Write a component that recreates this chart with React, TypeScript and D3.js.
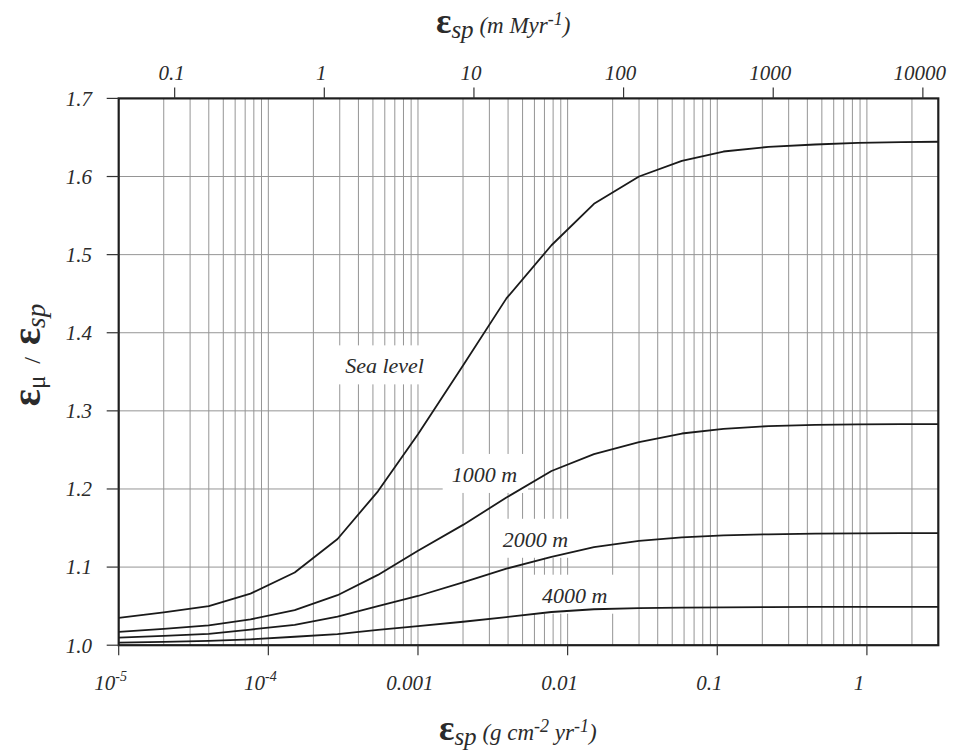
import React from 'react';
import * as d3 from 'd3';

// Erosion rate (g cm-2 yr-1) at which the curves were sampled
const erosionRate = [1e-5, 2e-5, 4e-5, 7.6e-5, 1.5e-4, 2.9e-4, 5.4e-4, 1.0e-3, 2.0e-3, 3.9e-3, 7.8e-3, 1.5e-2, 3.0e-2, 5.8e-2, 0.11, 0.22, 0.45, 0.87, 1.7, 3.0];
// epsilon_mu / epsilon_sp
const seaLevel = [1.035, 1.042, 1.050, 1.066, 1.093, 1.136, 1.197, 1.270, 1.358, 1.444, 1.512, 1.565, 1.600, 1.620, 1.632, 1.638, 1.641, 1.643, 1.644, 1.6445];
const alt1000 = [1.017, 1.021, 1.0255, 1.033, 1.045, 1.064, 1.090, 1.121, 1.154, 1.189, 1.223, 1.2445, 1.260, 1.271, 1.277, 1.2805, 1.282, 1.2828, 1.283, 1.283];
const alt2000 = [1.0096, 1.012, 1.0145, 1.020, 1.026, 1.0365, 1.050, 1.063, 1.0805, 1.098, 1.113, 1.1255, 1.1335, 1.138, 1.1405, 1.142, 1.1428, 1.1432, 1.1434, 1.1435];
const alt4000 = [1.0032, 1.0043, 1.0055, 1.0075, 1.0108, 1.0143, 1.0195, 1.0245, 1.030, 1.036, 1.0425, 1.046, 1.0475, 1.048, 1.0485, 1.0488, 1.049, 1.049, 1.049, 1.049];

const curveNames = ['Sea level', '1000 m', '2000 m', '4000 m'];
// label anchor (rate, ratio) in data coordinates
const labelRate = [3.26e-4, 1.68e-3, 3.68e-3, 6.73e-3];
const labelRatio = [1.348, 1.209, 1.126, 1.0544];

const yTicks = [1.0, 1.1, 1.2, 1.3, 1.4, 1.5, 1.6, 1.7];
const bottomTicks = [1e-5, 1e-4, 1e-3, 1e-2, 0.1, 1];
const bottomTickBase = ['10', '10', '0.001', '0.01', '0.1', '1'];
const bottomTickExp = ['-5', '-4', '', '', '', ''];
const topTicks = [0.1, 1, 10, 100, 1000, 10000];
const topTickLabels = ['0.1', '1', '10', '100', '1000', '10000'];
const xDomain = [1e-5, 3.0];
const yDomain = [1.0, 1.7];
const K = 4227; // m Myr-1 per g cm-2 yr-1 (top axis conversion)

export default function App() {
  const ref = React.useRef<SVGSVGElement>(null);

  React.useEffect(() => {
    const svg = d3.select(ref.current);
    svg.selectAll('*').remove();
    const left = 118.7, right = 938.3, top = 98.4, bottom = 645.2;
    const x = d3.scaleLog().domain(xDomain).range([left, right]);
    const xTop = d3.scaleLog().domain([xDomain[0] * K, xDomain[1] * K]).range([left, right]);
    const y = d3.scaleLinear().domain(yDomain).range([bottom, top]);
    const font = '"Liberation Serif", "Times New Roman", serif';
    const txt = '#2b2b2b';

    svg.append('rect').attr('width', 953).attr('height', 755).attr('fill', '#fff');

    // vertical grid
    const minor: number[] = [];
    for (let e = -5; e <= 0; e++) {
      for (let m = 1; m <= 9; m++) {
        const v = m * Math.pow(10, e);
        if (v > xDomain[0] * 1.001 && v < xDomain[1] * 0.999) minor.push(v);
      }
    }
    const grid = svg.append('g');
    grid.selectAll('line.v').data(minor).enter().append('line')
      .attr('x1', d => x(d)).attr('x2', d => x(d))
      .attr('y1', top).attr('y2', bottom)
      .attr('stroke', '#959595').attr('stroke-width', 1);
    grid.selectAll('line.h').data(yTicks.slice(1, -1)).enter().append('line')
      .attr('x1', left).attr('x2', right)
      .attr('y1', d => y(d)).attr('y2', d => y(d))
      .attr('stroke', '#959595').attr('stroke-width', 1);

    const boxG = svg.append('g');
    const curveG = svg.append('g');
    const labelG = svg.append('g');

    const series = [seaLevel, alt1000, alt2000, alt4000];
    const line = d3.line<number>()
      .x((_, i) => x(erosionRate[i]))
      .y(d => y(d));
    series.forEach(s => {
      curveG.append('path').attr('d', line(s) as string)
        .attr('fill', 'none').attr('stroke', '#1a1a1a').attr('stroke-width', 1.8)
        .attr('stroke-linejoin', 'round');
    });

    curveNames.forEach((name, i) => {
      const t = labelG.append('text')
        .attr('x', x(labelRate[i])).attr('y', y(labelRatio[i]))
        .attr('font-family', font).attr('font-style', 'italic').attr('font-size', 22)
        .attr('fill', txt).text(name);
      const bb = (t.node() as SVGTextElement).getBBox();
      boxG.append('rect')
        .attr('x', bb.x - 9).attr('y', y(labelRatio[i]) - 28)
        .attr('width', bb.width + 20).attr('height', 39)
        .attr('fill', '#fff');
    });

    // frame
    svg.append('rect').attr('x', left).attr('y', top)
      .attr('width', right - left).attr('height', bottom - top)
      .attr('fill', 'none').attr('stroke', '#1e1e1e').attr('stroke-width', 2.2);

    // left axis
    const la = svg.append('g');
    la.selectAll('line').data(yTicks).enter().append('line')
      .attr('x1', left - 12).attr('x2', left).attr('y1', d => y(d)).attr('y2', d => y(d))
      .attr('stroke', '#333').attr('stroke-width', 1.2);
    la.selectAll('text').data(yTicks).enter().append('text')
      .attr('x', 92).attr('y', d => y(d)).attr('dy', '0.35em')
      .attr('text-anchor', 'end').attr('font-family', font).attr('font-style', 'italic')
      .attr('font-size', 21).attr('fill', txt).text(d => d.toFixed(1));

    // bottom axis
    const ba = svg.append('g');
    ba.selectAll('line').data(bottomTicks).enter().append('line')
      .attr('x1', d => x(d)).attr('x2', d => x(d)).attr('y1', bottom).attr('y2', bottom + 10)
      .attr('stroke', '#333').attr('stroke-width', 1.2);
    bottomTicks.forEach((t, i) => {
      const tx = ba.append('text').attr('x', x(t) - 8).attr('y', 690)
        .attr('text-anchor', 'middle').attr('font-family', font).attr('font-style', 'italic')
        .attr('font-size', 21).attr('fill', txt);
      tx.append('tspan').text(bottomTickBase[i]);
      if (bottomTickExp[i]) tx.append('tspan').attr('font-size', 14).attr('dy', -9).text(bottomTickExp[i]);
    });

    // top axis
    const ta = svg.append('g');
    ta.selectAll('line').data(topTicks).enter().append('line')
      .attr('x1', d => xTop(d)).attr('x2', d => xTop(d)).attr('y1', top - 11).attr('y2', top)
      .attr('stroke', '#333').attr('stroke-width', 1.2);
    ta.selectAll('text').data(topTicks).enter().append('text')
      .attr('x', d => xTop(d) - 3).attr('y', 80)
      .attr('text-anchor', 'middle').attr('font-family', font).attr('font-style', 'italic')
      .attr('font-size', 21).attr('fill', txt).text((_, i) => topTickLabels[i]);

    type Part = { t: string; size: number; bold?: boolean; italic?: boolean; dy?: number };
    const writeParts = (sel: any, parts: Part[]) => {
      parts.forEach(p => {
        sel.append('tspan').attr('font-size', p.size)
          .attr('font-weight', p.bold ? 'bold' : 'normal')
          .attr('font-style', p.italic ? 'italic' : 'normal')
          .attr('dy', p.dy || 0).text(p.t);
      });
    };

    const topTitle = svg.append('text').attr('x', 436).attr('y', 33)
      .attr('font-family', font).attr('fill', txt).attr('xml:space', 'preserve');
    writeParts(topTitle, [
      { t: 'ε', size: 36, bold: true },
      { t: 'sp', size: 25, italic: true, dy: 5 },
      { t: ' (m Myr', size: 23, italic: true, dy: -5 },
      { t: '-1', size: 18, italic: true, dy: -8 },
      { t: ')', size: 23, italic: true, dy: 8 },
    ]);

    const botTitle = svg.append('text').attr('x', 439).attr('y', 740)
      .attr('font-family', font).attr('fill', txt).attr('xml:space', 'preserve');
    writeParts(botTitle, [
      { t: 'ε', size: 36, bold: true },
      { t: 'sp', size: 25, italic: true, dy: 5 },
      { t: ' (g cm', size: 23, italic: true, dy: -5 },
      { t: '-2', size: 18, italic: true, dy: -8 },
      { t: ' yr', size: 23, italic: true, dy: 8 },
      { t: '-1', size: 18, italic: true, dy: -8 },
      { t: ')', size: 23, italic: true, dy: 8 },
    ]);

    const yTitle = svg.append('text')
      .attr('transform', 'translate(40,355) rotate(-90)')
      .attr('text-anchor', 'middle')
      .attr('font-family', font).attr('fill', txt).attr('xml:space', 'preserve');
    writeParts(yTitle, [
      { t: 'ε', size: 40, bold: true },
      { t: 'μ', size: 25, dy: 5 },
      { t: '  /  ', size: 24, dy: -5 },
      { t: 'ε', size: 40, bold: true },
      { t: 'sp', size: 27, italic: true, dy: 5 },
    ]);
  }, []);

  return (
    <svg ref={ref} width={953} height={755}
      style={{ position: 'absolute', left: 0, top: 0, display: 'block' }} />
  );
}
